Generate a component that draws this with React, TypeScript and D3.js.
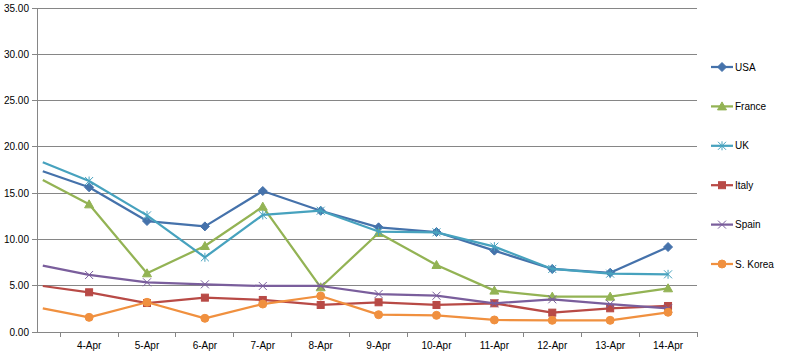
import React from "react";
import * as d3 from "d3";

const categories = ["", "4-Apr", "5-Apr", "6-Apr", "7-Apr", "8-Apr", "9-Apr", "10-Apr", "11-Apr", "12-Apr", "13-Apr", "14-Apr"];
const usa = [17.36, 15.63, 11.99, 11.41, 15.23, 13.1, 11.31, 10.8, 8.79, 6.81, 6.4, 9.18];
const france = [16.42, 13.79, 6.34, 9.29, 13.54, 4.83, 10.7, 7.24, 4.47, 3.82, 3.82, 4.72];
const uk = [18.33, 16.31, 12.6, 8.07, 12.64, 13.1, 10.85, 10.77, 9.22, 6.81, 6.3, 6.23];
const italy = [4.97, 4.29, 3.13, 3.71, 3.46, 2.92, 3.21, 2.92, 3.1, 2.09, 2.56, 2.81];
const spain = [7.16, 6.16, 5.37, 5.15, 4.97, 4.97, 4.1, 3.92, 3.1, 3.53, 3.02, 2.56];
const korea = [2.56, 1.58, 3.21, 1.48, 3.02, 3.89, 1.87, 1.8, 1.3, 1.26, 1.26, 2.13];
const yTicks = [0, 5, 10, 15, 20, 25, 30, 35];

const series = [
  { name: "USA", values: usa, color: "#4572AB", marker: "diamond" },
  { name: "France", values: france, color: "#93B354", marker: "triangle" },
  { name: "UK", values: uk, color: "#47A2BE", marker: "star" },
  { name: "Italy", values: italy, color: "#B84A46", marker: "square" },
  { name: "Spain", values: spain, color: "#7A5E9C", marker: "x" },
  { name: "S. Korea", values: korea, color: "#F0903F", marker: "circle" },
];

const W = 787, H = 355;
const left = 37, right = 697, top = 8, bottom = 332;
const startPos = -0.8;

function Marker({ type, x, y, color }: { type: string; x: number; y: number; color: string }) {
  switch (type) {
    case "diamond":
      return <path d={`M${x},${y - 4.5}L${x + 4.5},${y}L${x},${y + 4.5}L${x - 4.5},${y}Z`} fill={color} stroke={color} />;
    case "triangle":
      return <path d={`M${x},${y - 4.5}L${x + 4.5},${y + 3.5}L${x - 4.5},${y + 3.5}Z`} fill={color} stroke={color} />;
    case "square":
      return <rect x={x - 3.5} y={y - 3.5} width={7} height={7} fill={color} stroke={color} />;
    case "circle":
      return <circle cx={x} cy={y} r={4} fill={color} stroke={color} />;
    case "x":
      return <path d={`M${x - 4},${y - 4}L${x + 4},${y + 4}M${x - 4},${y + 4}L${x + 4},${y - 4}`} stroke={color} strokeWidth={1} fill="none" />;
    case "star":
      return <path d={`M${x - 4},${y - 4}L${x + 4},${y + 4}M${x - 4},${y + 4}L${x + 4},${y - 4}M${x},${y - 4.5}L${x},${y + 4.5}`} stroke={color} strokeWidth={1} fill="none" />;
  }
  return null;
}

export default function App() {
  const n = categories.length - 1;
  const x = d3.scaleLinear().domain([-0.9, n - 0.5]).range([left, right]);
  const y = d3.scaleLinear().domain([0, 35]).range([bottom, top]);
  const pos = (i: number) => (i === 0 ? startPos : i - 1);
  const line = d3
    .line<number>()
    .x((_, i) => x(pos(i)))
    .y((d) => y(d));
  const tickPositions = d3.range(0, n + 1).map((k) => k - 0.5);
  const legendY = d3.scaleLinear().domain([0, series.length - 1]).range([67, 264]);

  return (
    <svg width={W} height={H} style={{ position: "absolute", left: 0, top: 0, background: "#fff" }} fontFamily="'Liberation Sans', Arial, sans-serif">
      <rect width={W} height={H} fill="#fff" />
      {yTicks.map((t) => (
        <g key={t}>
          {t > 0 && <line x1={left} x2={right} y1={y(t)} y2={y(t)} stroke="#868686" strokeWidth={1} shapeRendering="crispEdges" />}
          <line x1={left - 5} x2={left} y1={y(t)} y2={y(t)} stroke="#868686" shapeRendering="crispEdges" />
          <text x={29} y={y(t) + 3.5} fontSize={10} textAnchor="end" fill="#000">
            {t.toFixed(2)}
          </text>
        </g>
      ))}
      <line x1={left} x2={left} y1={top} y2={bottom} stroke="#868686" shapeRendering="crispEdges" />
      <line x1={left} x2={right} y1={bottom} y2={bottom} stroke="#868686" shapeRendering="crispEdges" />
      {tickPositions.map((p) => (
        <line key={p} x1={x(p)} x2={x(p)} y1={bottom} y2={bottom + 5} stroke="#868686" shapeRendering="crispEdges" />
      ))}
      {categories.slice(1).map((c, i) => (
        <text key={c} x={x(i)} y={349} fontSize={10} textAnchor="middle" fill="#000">
          {c}
        </text>
      ))}
      {series.map((s) => (
        <g key={s.name}>
          <path d={line(s.values) || ""} fill="none" stroke={s.color} strokeWidth={2.25} strokeLinejoin="round" />
          {s.values.slice(1).map((v, i) => (
            <Marker key={i} type={s.marker} x={x(i)} y={y(v)} color={s.color} />
          ))}
        </g>
      ))}
      {series.map((s, i) => (
        <g key={s.name}>
          <line x1={711} x2={733} y1={legendY(i)} y2={legendY(i)} stroke={s.color} strokeWidth={2.25} />
          <Marker type={s.marker} x={722} y={legendY(i)} color={s.color} />
          <text x={735} y={legendY(i) + 3.5} fontSize={10} fill="#000">
            {s.name}
          </text>
        </g>
      ))}
    </svg>
  );
}
